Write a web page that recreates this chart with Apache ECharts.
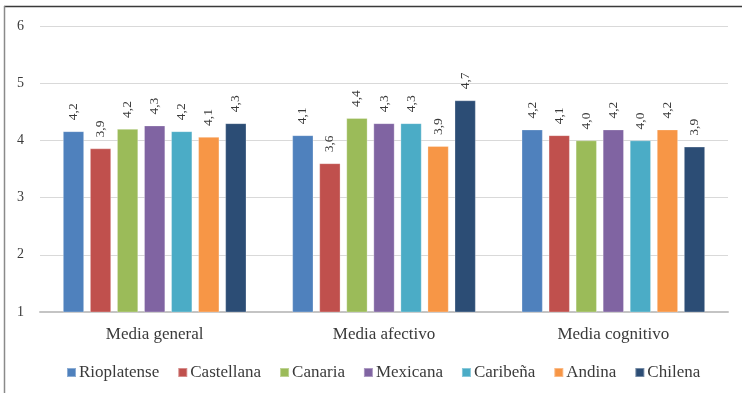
<!DOCTYPE html>
<html>
<head>
<meta charset="utf-8">
<script src="https://cdn.jsdelivr.net/npm/echarts@6/dist/echarts.min.js"></script>
<style>
  html, body { margin: 0; padding: 0; background: #ffffff; }
  #chart { width: 742px; height: 393px; }
</style>
</head>
<body>
<div id="chart"></div>
<script>
// Categories along the x axis
const categories = ['Media general', 'Media afectivo', 'Media cognitivo'];

// Series (variety names) and their means per category
const seriesNames = ['Rioplatense', 'Castellana', 'Canaria', 'Mexicana', 'Caribeña', 'Andina', 'Chilena'];
const rioplatense = [4.16, 4.09, 4.19];
const castellana  = [3.86, 3.60, 4.09];
const canaria     = [4.20, 4.39, 4.00];
const mexicana    = [4.26, 4.30, 4.19];
const caribena    = [4.16, 4.30, 4.00];
const andina      = [4.06, 3.90, 4.19];
const chilena     = [4.30, 4.70, 3.89];

// Y axis range and step
const yMin = 1, yMax = 6, yStep = 1;

const seriesValues = [rioplatense, castellana, canaria, mexicana, caribena, andina, chilena];
const colors = ['#4F81BD', '#C0504D', '#9BBB59', '#8064A2', '#4BACC6', '#F79646', '#2C4D75'];

const serif = '"Liberation Serif", "DejaVu Serif", serif';
const textColor = '#3a3a3a';

const chart = echarts.init(document.getElementById('chart'), null, { renderer: 'canvas' });

const series = seriesNames.map((name, i) => ({
  name: name,
  type: 'bar',
  data: seriesValues[i],
  barGap: '28%',
  barCategoryGap: '20%',
  itemStyle: { color: colors[i], borderColor: 'rgba(255,255,255,0.35)', borderWidth: 0.8 },
  label: {
    show: true,
    position: 'top',
    rotate: 90,
    align: 'left',
    verticalAlign: 'middle',
    distance: 11,
    fontFamily: serif,
    fontSize: 13.5,
    color: textColor,
    formatter: p => (Math.round(p.value * 10) / 10).toFixed(1).replace('.', ',')
  }
}));

chart.setOption({
  animation: false,
  backgroundColor: '#ffffff',
  grid: { left: 40, right: 14, top: 26, bottom: 81, containLabel: false },
  xAxis: {
    type: 'category',
    data: categories,
    axisLine: { show: true, lineStyle: { color: '#c4c4c4', width: 2 } },
    axisTick: { show: false },
    axisLabel: { fontFamily: serif, fontSize: 17, color: textColor, margin: 14 }
  },
  yAxis: {
    type: 'value',
    min: yMin,
    max: yMax,
    interval: yStep,
    axisLine: { show: false },
    axisTick: { show: false },
    splitLine: { show: true, lineStyle: { color: '#d9d9d9', width: 1.2 } },
    axisLabel: { fontFamily: serif, fontSize: 14, color: textColor, margin: 16 }
  },
  legend: {
    data: seriesNames,
    left: 61,
    top: 359,
    itemWidth: 9,
    itemHeight: 9,
    itemGap: 18,
    icon: 'rect',
    textStyle: { fontFamily: serif, fontSize: 17, color: textColor, padding: [0, 0, 0, -2] }
  },
  series: series,
  graphic: [
    { type: 'line', shape: { x1: 4, y1: 6.5, x2: 742, y2: 6.5 }, style: { stroke: '#3a3a3a', lineWidth: 1.5 }, silent: true },
    { type: 'line', shape: { x1: 4.5, y1: 6, x2: 4.5, y2: 393 }, style: { stroke: '#8a8a8a', lineWidth: 1.5 }, silent: true }
  ]
});
</script>
</body>
</html>
